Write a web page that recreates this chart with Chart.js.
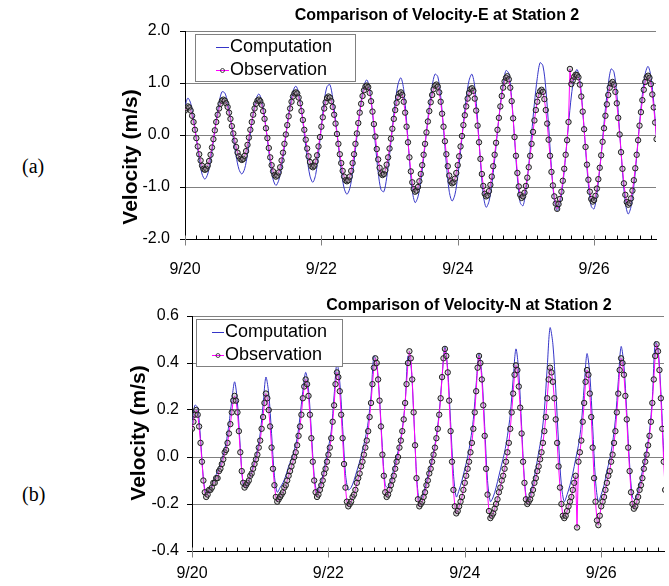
<!DOCTYPE html>
<html><head><meta charset="utf-8">
<script src="https://cdn.jsdelivr.net/npm/chart.js@4.4.1/dist/chart.umd.min.js"></script>
<style>
html,body{margin:0;padding:0;background:#fff;}
body{width:669px;height:586px;position:relative;overflow:hidden;}
canvas{position:absolute;left:0;}
.pl{position:absolute;font-family:'Liberation Serif','Times New Roman',serif;font-size:20px;line-height:20px;color:#000;}
</style></head><body>
<div class="pl" style="left:22px;top:156px">(a)</div>
<div class="pl" style="left:22px;top:484px">(b)</div>
<canvas id="chartE" width="669" height="290" style="top:0"></canvas>
<canvas id="chartN" width="669" height="296" style="top:290px"></canvas>
<script>
// x axis: hours after 9/20 00:00
const tickLabels = ['9/20','9/22','9/24','9/26'];
const labelEveryHours = 48;
const minorTickHours = 4;
const compStepHours = 1;   // computation sampled hourly
const obsStepHours = 0.5;  // observation sampled every 30 min

// (a) Velocity-E at Station 2
const compE = [
 .55,.71,.61,.32,-.07,-.46,
 -.75,-.85,-.75,-.49,-.11,.29,
 .62,.83,.81,.63,.32,-.05,
 -.41,-.66,-.75,-.65,-.37,.02,
 .41,.69,.79,.67,.35,-.09,
 -.53,-.85,-.97,-.87,-.61,-.23,
 .20,.58,.84,.94,.82,.48,
 .02,-.45,-.79,-.91,-.76,-.36,
 .16,.65,.93,.97,.71,.29,
 -.21,-.68,-1.02,-1.14,-1.03,-.72,
 -.28,.20,.64,.95,1.06,.89,
 .43,-.17,-.72,-1.05,-1.09,-.82,
 -.39,.14,.63,.98,1.10,.87,
 .27,-.47,-1.07,-1.30,-1.19,-.89,
 -.45,.06,.55,.94,1.17,1.12,
 .75,.12,-.56,-1.08,-1.27,-1.15,
 -.81,-.32,.22,.71,1.05,1.17,
 .93,.29,-.51,-1.15,-1.39,-1.28,
 -.96,-.48,.06,.58,.99,1.24,
 1.18,.70,-.06,-.82,-1.30,-1.36,
 -1.06,-.58,.02,.61,1.09,1.39,
 1.33,.90,.17,-.63,-1.24,-1.46,
 -1.32,-.95,-.40,.20,.75,1.12,
 1.26,1.05,.48,-.27,-.96,-1.37,
 -1.42,-1.13,-.66,-.08,.51,.98,
 1.27,1.21,.79,.07,-.70,-1.30,
 -1.52,-1.38,-.98,-.42,.22,.78,
 1.18,1.32,1.13,.63,-.07,-.76
];
const obsE = [
 .47,.52,.55,.53,.47,.37,.25,.10,-.06,-.22,-.37,-.49,
 -.59,-.65,-.67,-.65,-.59,-.50,-.38,-.24,-.08,.09,.25,.39,
 .51,.60,.66,.68,.66,.61,.54,.43,.31,.17,.03,-.11,
 -.23,-.34,-.41,-.46,-.48,-.46,-.40,-.31,-.19,-.05,.10,.25,
 .39,.51,.60,.66,.68,.65,.58,.46,.31,.13,-.06,-.25,
 -.43,-.58,-.70,-.77,-.80,-.78,-.72,-.62,-.49,-.34,-.17,.01,
 .19,.36,.51,.64,.74,.80,.82,.80,.72,.61,.46,.29,
 .10,-.09,-.26,-.41,-.52,-.60,-.62,-.59,-.51,-.39,-.22,-.04,
 .16,.34,.51,.63,.71,.74,.72,.65,.54,.39,.22,.02,
 -.17,-.37,-.54,-.69,-.80,-.87,-.89,-.87,-.80,-.69,-.54,-.37,
 -.17,.03,.23,.43,.60,.75,.86,.93,.95,.92,.81,.65,
 .45,.21,-.03,-.27,-.47,-.63,-.74,-.77,-.75,-.68,-.57,-.43,
 -.26,-.07,.12,.31,.48,.62,.73,.80,.82,.77,.64,.43,
 .16,-.14,-.43,-.70,-.91,-1.04,-1.09,-1.07,-1.00,-.89,-.75,-.58,
 -.38,-.17,.05,.26,.46,.63,.77,.88,.95,.97,.93,.82,
 .64,.41,.16,-.12,-.37,-.60,-.78,-.89,-.93,-.91,-.84,-.73,
 -.58,-.41,-.22,-.02,.19,.38,.55,.70,.81,.88,.90,.85,
 .70,.47,.18,-.14,-.46,-.75,-.98,-1.13,-1.18,-1.16,-1.08,-.96,
 -.80,-.60,-.38,-.15,.10,.33,.55,.75,.91,1.03,1.10,1.13,
 1.07,.91,.65,.32,-.04,-.40,-.73,-.99,-1.15,-1.21,-1.18,-1.11,
 -.98,-.82,-.62,-.40,-.17,.06,.28,.48,.64,.77,.84,.87,
 .83,.69,.48,.22,-.09,-.40,-.71,-.97,-1.18,-1.32,-1.42,-1.33,
 -1.23,-1.09,-.88,-.65,-.38,-.10,.25,1.27,.98,1.05,1.12,1.16,
 1.15,1.11,.97,.74,.45,.11,-.23,-.57,-.86,-1.09,-1.23,-1.28,
 -1.25,-1.17,-1.03,-.85,-.63,-.39,-.13,.13,.37,.59,.77,.91,
 .99,1.02,.97,.83,.61,.33,.01,-.33,-.65,-.93,-1.15,-1.29,
 -1.34,-1.31,-1.22,-1.07,-.87,-.64,-.38,-.10,.18,.44,.67,.87,
 1.02,1.11,1.14,1.10,.98,.78,.53,.24,-.08,-.40,-.69
];

// (b) Velocity-N at Station 2
const compN = [
 .13,.22,.21,.08,-.09,-.16,
 -.15,-.12,-.09,-.06,-.03,.01,
 .06,.14,.24,.32,.23,.04,
 -.12,-.13,-.10,-.06,-.02,.03,
 .10,.22,.34,.27,.10,-.08,
 -.15,-.13,-.11,-.08,-.04,-.01,
 .03,.08,.17,.28,.36,.29,
 .11,-.08,-.15,-.12,-.08,-.02,
 .04,.11,.26,.40,.32,.13,
 -.07,-.14,-.13,-.10,-.06,-.02,
 .03,.08,.15,.26,.43,.40,
 .25,.04,-.12,-.13,-.10,-.05,
 .00,.05,.12,.23,.43,.40,
 .19,-.07,-.19,-.17,-.13,-.08,
 -.03,.02,.09,.19,.34,.47,
 .37,.15,-.07,-.17,-.14,-.10,
 -.05,.00,.07,.16,.31,.44,
 .35,.13,-.10,-.19,-.17,-.13,
 -.08,-.03,.02,.09,.18,.33,
 .46,.36,.13,-.10,-.19,-.16,
 -.11,-.05,.02,.09,.20,.38,
 .55,.48,.29,.06,-.12,-.19,
 -.16,-.12,-.07,-.01,.05,.14,
 .30,.44,.35,.13,-.10,-.19,
 -.16,-.12,-.06,-.01,.06,.16,
 .32,.47,.39,.19,-.03,-.17,
 -.18,-.14,-.09,-.03,.03,.11,
 .25,.49,.46,.28,.02,-.16
];
const obsN = [
 .12,.15,.18,.20,.18,.13,.06,-.02,-.10,-.15,-.17,-.16,
 -.14,-.14,-.13,-.11,-.11,-.09,-.09,-.06,-.05,-.03,-.01,.02,
 .03,.06,.10,.14,.19,.24,.26,.24,.19,.11,.02,-.06,
 -.11,-.13,-.12,-.11,-.10,-.08,-.07,-.05,-.03,-.01,.01,.04,
 .07,.12,.17,.23,.27,.25,.20,.13,.04,-.05,-.12,-.17,
 -.19,-.18,-.17,-.16,-.15,-.13,-.12,-.10,-.08,-.06,-.04,-.02,
 .00,.02,.05,.09,.13,.18,.25,.30,.33,.31,.26,.18,
 .08,-.02,-.10,-.15,-.17,-.16,-.14,-.12,-.10,-.07,-.05,-.02,
 .01,.04,.08,.15,.22,.31,.36,.34,.28,.18,.08,-.03,
 -.13,-.19,-.21,-.20,-.19,-.17,-.16,-.14,-.11,-.09,-.07,-.04,
 -.02,.01,.04,.07,.11,.17,.23,.31,.38,.42,.40,.33,
 .24,.13,.01,-.08,-.15,-.17,-.16,-.14,-.12,-.10,-.08,-.05,
 -.02,.00,.04,.07,.11,.16,.23,.31,.40,.45,.42,.33,
 .19,.05,-.09,-.18,-.21,-.20,-.19,-.17,-.15,-.12,-.10,-.07,
 -.05,-.02,.01,.04,.08,.12,.18,.25,.34,.42,.46,.43,
 .36,.24,.11,-.02,-.14,-.21,-.24,-.23,-.21,-.19,-.17,-.14,
 -.11,-.08,-.05,-.02,.02,.06,.12,.19,.28,.38,.43,.40,
 .33,.22,.09,-.05,-.16,-.23,-.26,-.25,-.24,-.22,-.20,-.18,
 -.15,-.13,-.10,-.08,-.05,-.02,.02,.06,.12,.19,.27,.35,
 .39,.37,.30,.21,.10,-.02,-.11,-.18,-.20,-.19,-.18,-.16,
 -.14,-.11,-.09,-.06,-.04,-.01,.02,.06,.11,.17,.25,.33,
 .38,.36,.32,.25,.16,.06,-.04,-.13,-.20,-.25,-.26,-.25,
 -.23,-.21,-.19,-.17,-.14,-.11,-.08,-.30,-.02,.02,.07,.15,
 .23,.32,.37,.35,.27,.17,.04,-.09,-.19,-.27,-.29,-.25,
 -.21,-.19,-.17,-.14,-.11,-.08,-.06,-.02,.01,.06,.11,.19,
 .27,.37,.42,.40,.35,.26,.16,.04,-.06,-.15,-.20,-.22,
 -.21,-.19,-.17,-.14,-.12,-.09,-.05,-.02,.01,.05,.09,.15,
 .23,.33,.43,.48,.45,.37,.25,.12,-.02,-.14,-.22
];

const FONT = '"Liberation Sans", Arial, sans-serif';
Chart.defaults.font.family = FONT;
Chart.defaults.color = '#000';

const deco = {
  id: 'deco',
  afterDraw(chart, args, o) {
    const ctx = chart.ctx, ca = chart.chartArea, xs = chart.scales.x;
    ctx.save();
    // x-axis tick marks: minor inward, major crossing (gray)
    const yb = ca.bottom + 0.5;
    ctx.lineWidth = 1;
    for (let h = 0; h <= xs.max + 1e-9; h += minorTickHours) {
      const x = Math.round(xs.getPixelForValue(h)) + 0.5;
      const major = h % labelEveryHours === 0;
      ctx.beginPath();
      ctx.strokeStyle = major ? '#808080' : '#000';
      ctx.moveTo(x, yb - 4);
      ctx.lineTo(x, major ? yb + 6 : yb);
      ctx.stroke();
    }
    // legend box
    const L = o.legend;
    ctx.fillStyle = '#fff';
    ctx.fillRect(L.x, L.y, L.w, L.h);
    ctx.strokeStyle = '#808080';
    ctx.strokeRect(L.x + 0.5, L.y + 0.5, L.w - 1, L.h - 1);
    ctx.font = '18px ' + FONT;
    ctx.textBaseline = 'middle';
    ctx.textAlign = 'left';
    L.order.forEach((di, k) => {
      const ds = chart.data.datasets[di];
      const y = L.rows[k];
      ctx.beginPath();
      ctx.strokeStyle = ds.borderColor;
      ctx.lineWidth = 1;
      ctx.moveTo(L.sx0, y + 0.5); ctx.lineTo(L.sx1, y + 0.5);
      ctx.stroke();
      if (ds.pointRadius > 0) {
        ctx.beginPath();
        ctx.arc((L.sx0 + L.sx1) / 2, y + 0.5, 2, 0, Math.PI * 2);
        ctx.strokeStyle = ds.pointBorderColor;
        ctx.lineWidth = 0.8;
        ctx.stroke();
      }
      ctx.fillStyle = '#000';
      ctx.fillText(ds.label, L.tx, y);
    });
    // title
    ctx.font = 'bold 16px ' + FONT;
    ctx.textAlign = 'center';
    ctx.textBaseline = 'middle';
    ctx.fillText(o.title.text, o.title.x, o.title.y);
    // y-axis title
    ctx.translate(o.ylab.x, o.ylab.y);
    ctx.rotate(-Math.PI / 2);
    ctx.font = 'bold 21px ' + FONT;
    ctx.textAlign = 'center';
    ctx.textBaseline = 'alphabetic';
    ctx.fillText(o.ylab.text, 0, 0);
    ctx.restore();
  }
};

function makeChart(id, comp, obs, cfg) {
  const yMin = cfg.yMin;
  return new Chart(document.getElementById(id), {
    type: 'line',
    data: {
      datasets: [
        { label: 'Computation', data: comp.map((v, i) => ({ x: i * compStepHours, y: v })),
          borderColor: '#3535c8', borderWidth: 1, pointRadius: 0, tension: 0.3, order: 2 },
        { label: 'Observation', data: obs.map((v, i) => ({ x: i * obsStepHours, y: v })),
          borderColor: '#ff00ff', borderWidth: 1, pointRadius: 2.7, pointBorderColor: '#1e1e1e',
          pointBorderWidth: 1, pointBackgroundColor: 'rgba(150,150,150,0.35)', tension: 0, order: 1 }
      ]
    },
    options: {
      responsive: false, devicePixelRatio: 1, animation: false,
      layout: { padding: { left: 0, right: 0, top: cfg.top, bottom: 0 } },
      plugins: { legend: { display: false }, tooltip: { enabled: false }, title: { display: false },
        deco: { legend: cfg.legend, title: cfg.title, ylab: cfg.ylab } },
      scales: {
        x: { type: 'linear', min: 0, max: cfg.xMax,
          afterFit: (s) => { s.height = cfg.xH; },
          grid: { display: false },
          border: { display: true, color: '#000', width: 1 },
          ticks: { stepSize: minorTickHours, autoSkip: false, maxRotation: 0, minRotation: 0,
            padding: cfg.xPad, color: '#000', font: { size: 16 },
            callback: (v) => (Math.abs(v % labelEveryHours) < 1e-6 ? tickLabels[Math.round(v / labelEveryHours)] : '') } },
        y: { min: yMin, max: cfg.yMax,
          afterFit: (s) => { s.width = cfg.yW; },
          border: { display: true, color: '#000', width: 1 },
          grid: { color: (c) => (c.tick && Math.abs(c.tick.value - yMin) < 1e-9 ? 'rgba(0,0,0,0)' : '#808080'),
            lineWidth: 1, drawTicks: true, tickLength: 5, tickColor: '#000' },
          ticks: { stepSize: cfg.yStep, padding: cfg.yPad, color: '#000', font: { size: 16 },
            callback: (v) => v.toFixed(1) } }
      }
    },
    plugins: [deco]
  });
}

makeChart('chartE', compE, obsE, {
  top: 31, xH: 51, yW: 185, xMax: 165.8, xPad: 13, yPad: 10,
  yMin: -2, yMax: 2, yStep: 1,
  legend: { x: 195, y: 34, w: 161, h: 48, rows: [47, 70], sx0: 216, sx1: 229, tx: 230, order: [0, 1] },
  title: { text: 'Comparison of Velocity-E at Station 2', x: 437, y: 16 },
  ylab: { text: 'Velocity (m/s)', x: 137, y: 157 }
});
makeChart('chartN', compN, obsN, {
  top: 26, xH: 35, yW: 192, xMax: 166.1, xPad: 5, yPad: 8,
  yMin: -0.4, yMax: 0.6, yStep: 0.2,
  legend: { x: 196, y: 29, w: 147, h: 48, rows: [42, 65], sx0: 212, sx1: 224, tx: 225, order: [0, 1] },
  title: { text: 'Comparison of Velocity-N at Station 2', x: 469, y: 16 },
  ylab: { text: 'Velocity (m/s)', x: 145, y: 143 }
});
</script>
</body></html>
